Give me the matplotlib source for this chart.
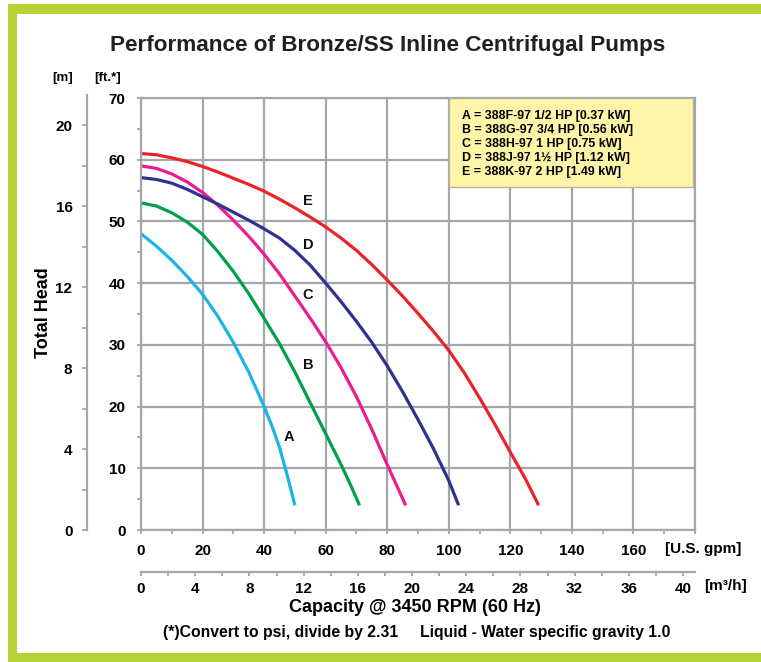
import matplotlib
matplotlib.use('Agg')
import matplotlib.pyplot as plt
from matplotlib.patches import Rectangle
from matplotlib.ticker import MultipleLocator

# ---------------- data (U.S. gpm vs ft) ----------------
a_gpm = [0, 5, 10, 15, 20, 25, 30, 35, 40, 42.5, 45, 47.5, 50]
a_ft = [48.0, 46.0, 43.7, 41.1, 38.2, 34.6, 30.4, 25.6, 20.0, 16.9, 13.4, 8.9, 4.0]

b_gpm = [0, 5, 10, 15, 20, 25, 30, 35, 40, 45, 50, 55, 60, 65, 68, 71]
b_ft = [53.0, 52.5, 51.4, 49.9, 47.9, 45.1, 41.9, 38.3, 34.3, 30.2, 25.6, 20.6, 15.6, 10.6, 7.4, 4.0]

c_gpm = [0, 5, 10, 15, 20, 25, 30, 35, 40, 45, 50, 55, 60, 65, 70, 75, 80, 83, 86]
c_ft = [59.0, 58.6, 57.7, 56.4, 54.7, 52.6, 50.2, 47.6, 44.7, 41.5, 37.9, 34.3, 30.5, 26.3, 21.6, 16.3, 10.6, 7.3, 4.0]

d_gpm = [0, 5, 10, 15, 20, 25, 30, 35, 40, 45, 50, 55, 60, 65, 70, 75, 80, 85, 90, 95, 100, 103.2]
d_ft = [57.1, 56.8, 56.2, 55.2, 54.0, 52.8, 51.5, 50.2, 48.8, 47.3, 45.3, 42.9, 40.0, 37.0, 33.8, 30.4, 26.6, 22.4, 17.9, 13.2, 8.0, 4.0]

e_gpm = [0, 5, 10, 15, 20, 25, 30, 35, 40, 45, 50, 55, 60, 65, 70, 75, 80, 85, 90, 95, 100, 105, 110, 115, 120, 125, 129.2]
e_ft = [61.0, 60.8, 60.3, 59.7, 58.9, 58.0, 57.0, 56.0, 54.9, 53.6, 52.2, 50.7, 49.1, 47.3, 45.3, 43.0, 40.5, 37.9, 35.1, 32.2, 29.1, 25.5, 21.4, 17.1, 12.6, 8.2, 4.0]

curve_names = ['A', 'B', 'C', 'D', 'E']
curve_colors = ['#1AB4EA', '#00A04B', '#EC1C8E', '#2E3190', '#EB2328']
label_pos = [(48, 15.1), (54.3, 26.7), (54.3, 38), (54.3, 46.2), (54.3, 53.3)]

legend_lines = ['A = 388F-97 1/2 HP [0.37 kW]',
                'B = 388G-97 3/4 HP [0.56 kW]',
                'C = 388H-97 1 HP [0.75 kW]',
                'D = 388J-97 1\u00bd HP [1.12 kW]',
                'E = 388K-97 2 HP [1.49 kW]']

gpm_ticks = [0, 20, 40, 60, 80, 100, 120, 140, 160]
ft_ticks = [0, 10, 20, 30, 40, 50, 60, 70]
m_ticks = [0, 4, 8, 12, 16, 20]
m3h_ticks = [0, 4, 8, 12, 16, 20, 24, 28, 32, 36, 40]

FT_PER_M = 3.2808
GPM_PER_M3H = 4.4029

# ---------------- figure ----------------
W, H = 761, 662
fig = plt.figure(figsize=(W / 100, H / 100), dpi=100)


def fx(px):
    return px / W


def fy(py):
    return 1 - py / H


BOLD = ['Liberation Sans', 'DejaVu Sans']
gc = '#A2A7AC'
green = '#B5D334'

# green frame
fig.patches.append(Rectangle((fx(8), fy(14)), 1, 10 / H, transform=fig.transFigure,
                             facecolor=green, edgecolor='none'))
fig.patches.append(Rectangle((fx(8), 0), 9 / W, fy(4), transform=fig.transFigure,
                             facecolor=green, edgecolor='none'))
fig.patches.append(Rectangle((fx(8), 0), 1, 9 / H, transform=fig.transFigure,
                             facecolor=green, edgecolor='none'))

# main axes
x0, x1, y0, y1 = 141, 695, 530, 98
ax = fig.add_axes([fx(x0), fy(y0), (x1 - x0) / W, (y0 - y1) / H])
ax.set_xlim(0, 180)
ax.set_ylim(0, 70)
ax.set_xticks(gpm_ticks + [180])
ax.set_xticklabels([str(v) for v in gpm_ticks] + [''])
ax.set_yticks(ft_ticks)
ax.set_yticklabels([str(v) for v in ft_ticks])
ax.xaxis.set_minor_locator(MultipleLocator(10))
ax.yaxis.set_minor_locator(MultipleLocator(5))
ax.grid(True, which='major', color=gc, lw=1.6)
ax.set_axisbelow(True)
for s in ax.spines.values():
    s.set_color(gc)
    s.set_linewidth(1.6)
ax.tick_params(axis='both', which='both', direction='out', color=gc, width=1.3, length=3)
ax.tick_params(axis='x', which='both', top=False, pad=7)
ax.tick_params(axis='y', which='both', right=False, pad=8)
for lab in ax.get_xticklabels():
    lab.set_fontfamily(BOLD)
    lab.set_fontweight('bold')
    lab.set_fontsize(11)
for lab in ax.get_yticklabels():
    lab.set_fontfamily(BOLD)
    lab.set_fontweight('bold')
    lab.set_fontsize(11)

series = [(a_gpm, a_ft), (b_gpm, b_ft), (c_gpm, c_ft), (d_gpm, d_ft), (e_gpm, e_ft)]
for (gx, gy), col in zip(series, curve_colors):
    ax.plot(gx, gy, color=col, lw=2.3, solid_joinstyle='round', solid_capstyle='butt')
for name, (lx, ly) in zip(curve_names, label_pos):
    ax.text(lx, ly, name, fontfamily=BOLD, fontweight='bold', fontsize=10.5,
            ha='center', va='center', color='#111111')

# meter axis
axm = fig.add_axes([fx(87), fy(530), 1 / W, (530 - 95) / H])
axm.set_ylim(0, (530 - 95) / ((530 - 98) / 70) / FT_PER_M)
axm.set_xlim(0, 1)
axm.patch.set_visible(False)
for k in ['right', 'top', 'bottom']:
    axm.spines[k].set_visible(False)
axm.spines['left'].set_color(gc)
axm.spines['left'].set_linewidth(1.6)
axm.set_xticks([])
axm.set_yticks(m_ticks)
axm.set_yticklabels([str(v) for v in m_ticks])
axm.yaxis.set_minor_locator(MultipleLocator(2))
axm.tick_params(axis='y', which='both', direction='out', color=gc, width=1.3, length=3.5, pad=7)
for lab in axm.get_yticklabels():
    lab.set_fontfamily(BOLD)
    lab.set_fontweight('bold')
    lab.set_fontsize(11)

# m3/h axis
axq = fig.add_axes([fx(x0), fy(572), (x1 - x0) / W, 1 / H])
axq.set_xlim(0, 180 / GPM_PER_M3H)
axq.set_ylim(0, 1)
axq.patch.set_visible(False)
for k in ['left', 'right', 'top']:
    axq.spines[k].set_visible(False)
axq.spines['bottom'].set_color(gc)
axq.spines['bottom'].set_linewidth(1.6)
axq.set_yticks([])
axq.set_xticks(m3h_ticks)
axq.set_xticklabels([str(v) for v in m3h_ticks])
axq.xaxis.set_minor_locator(MultipleLocator(2))
axq.tick_params(axis='x', which='both', direction='out', color=gc, width=1.3, length=3, pad=4)
for lab in axq.get_xticklabels():
    lab.set_fontfamily(BOLD)
    lab.set_fontweight('bold')
    lab.set_fontsize(11)

# texts
fig.text(fx(388), fy(46), 'Performance of Bronze/SS Inline Centrifugal Pumps',
         fontfamily=BOLD, fontweight='bold', fontsize=16.2, ha='center', va='center',
         color='#231F20')
fig.text(fx(63), fy(78), '[m]', fontfamily=BOLD, fontweight='bold', fontsize=9.5,
         ha='center', va='center')
fig.text(fx(108), fy(78), '[ft.*]', fontfamily=BOLD, fontweight='bold', fontsize=9.5,
         ha='center', va='center')
fig.text(fx(43), fy(313), 'Total Head', fontfamily=BOLD, fontweight='bold', fontsize=13,
         ha='center', va='center', rotation=90)
fig.text(fx(665), fy(549), '[U.S. gpm]', fontfamily=BOLD, fontweight='bold', fontsize=11,
         ha='left', va='center')
fig.text(fx(704), fy(586), '[m\u00b3/h]', fontfamily=BOLD, fontweight='bold', fontsize=11,
         ha='left', va='center')
fig.text(fx(415), fy(608), 'Capacity @ 3450 RPM (60 Hz)', fontfamily=BOLD, fontweight='bold',
         fontsize=13, ha='center', va='center')
fig.text(fx(417), fy(632),
         '(*)Convert to psi, divide by 2.31     Liquid - Water specific gravity 1.0',
         fontfamily=BOLD, fontweight='bold', fontsize=11.3, ha='center', va='center')

# legend box
fig.patches.append(Rectangle((fx(449), fy(187)), (693 - 449) / W, (187 - 98) / H,
                             transform=fig.transFigure, facecolor='#FFF5A9',
                             edgecolor='#B8B49A', lw=1, zorder=5))
for i, line in enumerate(legend_lines):
    fig.text(fx(462), fy(115.5 + i * 14.1), line, fontfamily=BOLD, fontweight='bold',
             fontsize=8.9, ha='left', va='center', zorder=6)

fig.savefig('out.png', dpi=100)
